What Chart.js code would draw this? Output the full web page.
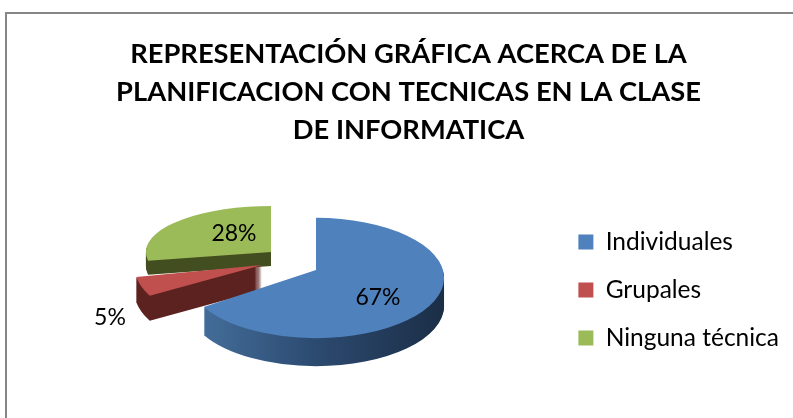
<!DOCTYPE html>
<html>
<head>
<meta charset="utf-8">
<style>
html, body { margin: 0; padding: 0; background: #fff; overflow: hidden; }
#frame { position: absolute; left: 5px; top: 12px; width: 900px; height: 600px; border-left: 2px solid #868686; border-top: 2px solid #868686; }
canvas { position: absolute; left: 7px; top: 14px; }
</style>
</head>
<body>
<div id="frame"></div>
<canvas id="grafico" width="803" height="404"></canvas>
<script src="https://cdn.jsdelivr.net/npm/chart.js@4/dist/chart.umd.min.js"></script>
<script>
const categorias = ['Individuales', 'Grupales', 'Ninguna técnica'];
const porcentajes = [67, 5, 28];
const tituloLineas = ['REPRESENTACIÓN GRÁFICA ACERCA DE LA', 'PLANIFICACION CON TECNICAS EN LA CLASE', 'DE INFORMATICA'];

const colores = ['#4F81BD', '#C0504D', '#9BBB59'];

// how each slice is laid flat on the page: where its centre goes, squash, wall depth
const vista = [
    { x: 316, y: 278, sx: 1, sy: 0.47, lift: 8, depth: 28, wall: ['#46729f', '#2c4a70', '#1b2e46'], tx: 378, ty: 298 },
    { x: 262, y: 265, sx: 1, sy: 0.5, lift: 0, depth: 25, wall: ['#5c2220', '#5c2220', '#5c2220'], tx: 110, ty: 318 },
    { x: 271, y: 252, sx: 0.977, sy: 0.36, lift: 0, depth: 14, wall: ['#434e20', '#434e20', '#434e20'], tx: 234, ty: 234 }
];
const ordenDibujo = [2, 1, 0];

function trazar(ctx, arc, v, d) {
    ctx.save();
    ctx.translate(v.x, v.y + d);
    ctx.scale(v.sx, v.sy);
    ctx.beginPath();
    ctx.moveTo(0, -v.lift / v.sy);
    ctx.arc(0, 0, arc.outerRadius, arc.startAngle, arc.endAngle);
    ctx.closePath();
}

const pastel3d = {
    id: 'pastel3d',
    beforeDatasetDraw() {
        return false;
    },
    afterDatasetsDraw(chart) {
        const ctx = chart.ctx;
        const arcos = chart.getDatasetMeta(0).data;
        ctx.save();
        ctx.translate(-7, -14); // vista is in page pixels
        ordenDibujo.forEach(i => {
            const v = vista[i];
            const arc = arcos[i];
            for (let d = v.depth; d >= 1; d--) {
                trazar(ctx, arc, v, d);
                const g = ctx.createLinearGradient(-arc.outerRadius, 0, arc.outerRadius, 0);
                g.addColorStop(0, v.wall[0]);
                g.addColorStop(0.5, v.wall[1]);
                g.addColorStop(1, v.wall[2]);
                ctx.fillStyle = g;
                ctx.fill();
                ctx.restore();
            }
            trazar(ctx, arc, v, 0);
            ctx.fillStyle = colores[i];
            ctx.fill();
            ctx.restore();
        });
        ctx.fillStyle = '#000';
        ctx.font = '23px Lato';
        ctx.textAlign = 'center';
        ctx.textBaseline = 'middle';
        porcentajes.forEach((p, i) => {
            ctx.fillText(p + '%', vista[i].tx, vista[i].ty);
        });
        ctx.restore();
    }
};

new Chart(document.getElementById('grafico'), {
    type: 'pie',
    data: {
        labels: categorias,
        datasets: [{
            data: porcentajes,
            backgroundColor: colores,
            borderWidth: 0
        }]
    },
    options: {
        responsive: false,
        animation: false,
        layout: { padding: { left: 21, right: 21 } },
        plugins: {
            title: {
                display: true,
                text: tituloLineas,
                color: '#000',
                font: { family: 'Lato', size: 27.3, weight: 'bold', lineHeight: 1.39 },
                padding: { top: 21, bottom: 13 }
            },
            legend: {
                position: 'right',
                fullSize: false,
                labels: {
                    color: '#000',
                    font: { family: 'Lato', size: 24.5 },
                    boxWidth: 15,
                    boxHeight: 15,
                    padding: 23.5
                }
            },
            tooltip: { enabled: false }
        }
    },
    plugins: [pastel3d]
});
</script>
</body>
</html>
